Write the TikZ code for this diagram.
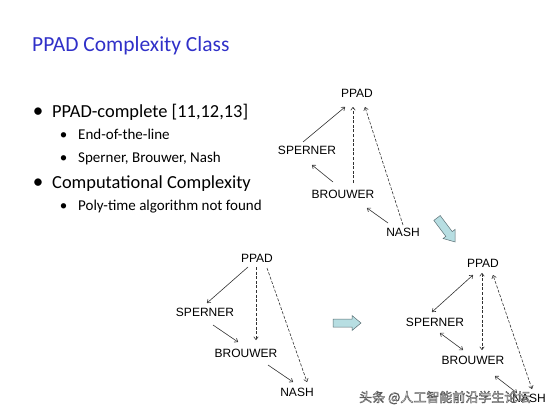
\documentclass[tikz,border=0pt]{standalone}
\usepackage{fontspec}
\setmainfont{Carlito}
\newfontfamily\diagfont{Liberation Sans}
\newfontfamily\cjkfont{Noto Sans CJK SC}
\usetikzlibrary{arrows.meta}
\definecolor{titleblue}{RGB}{48,48,200}
\definecolor{bigarrow}{RGB}{183,222,226}
\definecolor{bigarrowline}{RGB}{90,110,115}
\definecolor{lineg}{RGB}{50,50,50}
\tikzset{
  lbl/.style={font=\diagfont\fontsize{12}{13}\selectfont, inner sep=0pt, text depth=0pt},
  ar/.style={draw=lineg, line width=0.6pt, -{To[length=3.5pt,width=5pt]}},
  bi/.style={draw=lineg, line width=0.6pt, {To[length=3.5pt,width=5pt]}-{To[length=3.5pt,width=5pt]}},
  dsh/.style={dash pattern=on 3pt off 1.6pt},
  mainitem/.style={anchor=base west, inner sep=0pt, font=\fontsize{18.4}{20}\selectfont},
  subitem/.style={anchor=base west, inner sep=0pt, font=\fontsize{15}{17}\selectfont},
  bul/.style={anchor=base, inner sep=0pt},
  bigar/.style={fill=bigarrow, draw=bigarrowline, line width=0.5pt, line join=miter},
  wm/.style={anchor=base west, inner sep=0pt, font=\cjkfont\fontsize{13}{14}\selectfont}
}
\begin{document}
\begin{tikzpicture}[x=1pt,y=-1pt]
\useasboundingbox (0,0) rectangle (554,415);
% title
\node[anchor=base west, inner sep=0pt, text=titleblue, font=\fontsize{21.5}{24}\selectfont] (title) at (32,51) {PPAD Complexity Class};
% bullets
\node[bul, font=\fontsize{21}{22}\selectfont] (b1dot) at (38,117) {•};
\node[mainitem] (item1) at (52,117) {PPAD-complete [11,12,13]};
\node[bul, font=\fontsize{15}{17}\selectfont] (b2dot) at (63.5,139) {•};
\node[subitem] (item2) at (78,139) {End-of-the-line};
\node[bul, font=\fontsize{15}{17}\selectfont] (b3dot) at (63.5,162) {•};
\node[subitem] (item3) at (78,162) {Sperner, Brouwer, Nash};
\node[bul, font=\fontsize{21}{22}\selectfont] (b4dot) at (38,188) {•};
\node[mainitem] (item4) at (52,188) {Computational Complexity};
\node[bul, font=\fontsize{15}{17}\selectfont] (b5dot) at (63.5,210) {•};
\node[subitem] (item5) at (78,210) {Poly-time algorithm not found};

% diagram 1
\node[lbl] (p1) at (357,93) {PPAD};
\node[lbl] (s1) at (307,150) {SPERNER};
\node[lbl] (b1) at (343,194) {BROUWER};
\node[lbl] (n1) at (403,232) {NASH};
\draw[ar] ([shift={(-4,-8)}]s1.center) -- ([shift={(-12,14)}]p1.center);
\draw[ar,dsh] ([shift={(10,-11)}]b1.center) -- ([shift={(-4,14)}]p1.center);
\draw[ar,dsh] ([shift={(0,-7)}]n1.center) -- ([shift={(8,14)}]p1.center);
\draw[ar] ([shift={(-10,-12)}]b1.center) -- ([shift={(5,15)}]s1.center);
\draw[ar] ([shift={(-15,-9)}]n1.center) -- ([shift={(24,14)}]b1.center);

% diagram 2
\node[lbl] (p2) at (257,258) {PPAD};
\node[lbl] (s2) at (205,312) {SPERNER};
\node[lbl] (b2) at (246,353) {BROUWER};
\node[lbl] (n2) at (297,392) {NASH};
\draw[ar] ([shift={(-9,9)}]p2.center) -- ([shift={(2,-9)}]s2.center);
\draw[ar,dsh] ([shift={(-1,9)}]p2.center) -- ([shift={(10,-13)}]b2.center);
\draw[ar,dsh] ([shift={(10,10)}]p2.center) -- ([shift={(10,-10)}]n2.center);
\draw[ar] ([shift={(8,13)}]s2.center) -- ([shift={(-8,-11)}]b2.center);
\draw[ar] ([shift={(22,12)}]b2.center) -- ([shift={(-4,-10)}]n2.center);

% diagram 3
\node[lbl] (p3) at (483,263) {PPAD};
\node[lbl] (s3) at (435,322) {SPERNER};
\node[lbl] (b3) at (473,360) {BROUWER};
\node[lbl] (n3) at (529,398) {NASH};
\draw[bi] ([shift={(-10,12)}]p3.center) -- ([shift={(-3,-10)}]s3.center);
\draw[bi,dsh] ([shift={(-1,10)}]p3.center) -- ([shift={(9,-10)}]b3.center);
\draw[bi,dsh] ([shift={(3,-9)}]n3.center) -- ([shift={(10,12)}]p3.center);
\draw[bi] ([shift={(5,11)}]s3.center) -- ([shift={(-10,-10)}]b3.center);
\draw[bi] ([shift={(-12,-5)}]n3.center) -- ([shift={(22,16)}]b3.center);

% big arrows
\draw[bigar] (333,319) -- (352,319) -- (352,315.5) -- (361,323) -- (352,330.5) -- (352,327) -- (333,327) -- cycle;
\begin{scope}[shift={(437,218)}, rotate=-53]
\draw[bigar] (0,-4) -- (20,-4) -- (20,-7.5) -- (30,0) -- (20,7.5) -- (20,4) -- (0,4) -- cycle;
\end{scope}

% watermark: white letters with a dark outline
\node[wm, text=white] (wm) at (359,402) {\special{pdf:literal 2 Tr 0.35 G 0.45 w}头条 @人工智能前沿学生论坛\special{pdf:literal 0 Tr}};
\end{tikzpicture}
\end{document}
